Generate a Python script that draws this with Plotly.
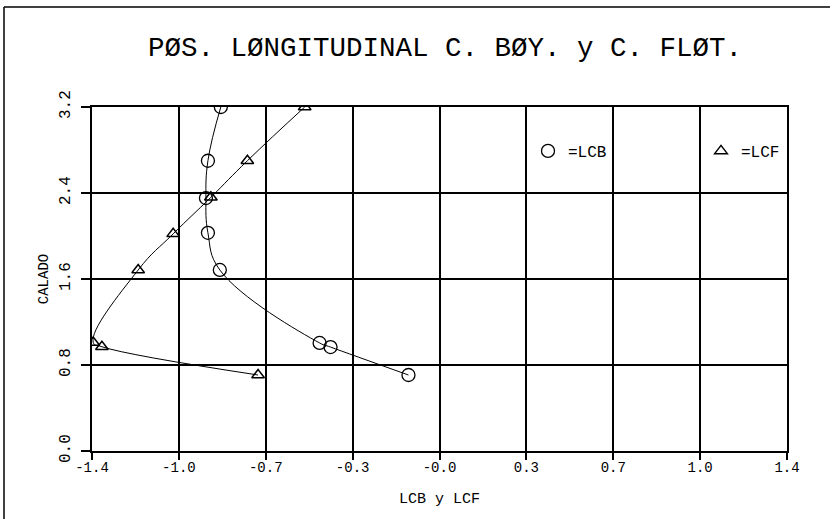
import plotly.graph_objects as go

# Data
calado_lcb = [0.707, 0.967, 1.005, 1.684, 2.03, 2.353, 2.70, 3.2]
lcb = [-0.125, -0.439, -0.483, -0.885, -0.933, -0.941, -0.933, -0.881]

calado_lcf = [0.707, 0.97, 1.01, 1.684, 2.02, 2.36, 2.70, 3.2]
lcf = [-0.731, -1.36, -1.395, -1.214, -1.073, -0.921, -0.774, -0.543]

x_ticks = [-1.4, -1.05, -0.7, -0.35, 0.0, 0.35, 0.7, 1.05, 1.4]
x_tick_labels = ["-1.4", "-1.0", "-0.7", "-0.3", "-0.0", "0.3", "0.7", "1.0", "1.4"]
y_ticks = [0.0, 0.8, 1.6, 2.4, 3.2]
y_tick_labels = ["0.0", "0.8", "1.6", "2.4", "3.2"]

FONT = "Liberation Mono"

fig = go.Figure()
fig.add_trace(go.Scatter(x=lcb, y=calado_lcb, mode="lines+markers",
                         line=dict(color="black", width=1, shape="spline", smoothing=1.2),
                         marker=dict(symbol="circle-open", size=13, color="black", line=dict(width=1.3)),
                         showlegend=False))
fig.add_trace(go.Scatter(x=lcf, y=calado_lcf, mode="lines+markers",
                         line=dict(color="black", width=1, shape="spline", smoothing=1.3),
                         marker=dict(symbol="triangle-up-open", size=11, color="black", line=dict(width=1.5)),
                         showlegend=False))
# legend-only entries
fig.add_trace(go.Scatter(x=[None], y=[None], mode="markers", name="=LCB", legend="legend",
                         marker=dict(symbol="circle-open", size=13, color="black", line=dict(width=1.3))))
fig.add_trace(go.Scatter(x=[None], y=[None], mode="markers", name="=LCF", legend="legend2",
                         marker=dict(symbol="triangle-up-open", size=11, color="black", line=dict(width=1.5))))

W, H = 837, 519
L, R, T, B = 92, 50, 107, 68
pw, ph = W - L - R, H - T - B

def px2paper_x(px):
    return (px - L) / pw

def px2paper_y(py):
    return (H - B - py) / ph

leg_common = dict(bgcolor="rgba(0,0,0,0)", font=dict(family=FONT, size=16),
                  yanchor="middle", y=px2paper_y(151), xanchor="left",
                  itemwidth=30, tracegroupgap=0)

fig.update_layout(
    width=W, height=H, autosize=False,
    margin=dict(l=L, r=R, t=T, b=B, autoexpand=False),
    paper_bgcolor="white", plot_bgcolor="white",
    font=dict(family=FONT, color="black", size=14),
    title=dict(text="PØS. LØNGITUDINAL C. BØY. y C. FLØT.",
               x=px2paper_x(445), xanchor="center", xref="paper",
               y=1 - 46 / H, yanchor="middle",
               font=dict(family=FONT, size=27.5, color="black")),
    xaxis=dict(range=[-1.4, 1.4], tickvals=x_ticks, ticktext=x_tick_labels,
               showgrid=True, gridcolor="black", gridwidth=1.5,
               showline=True, linecolor="black", linewidth=1.5, mirror=True,
               ticks="outside", ticklen=7, tickcolor="black", tickwidth=1.5,
               zeroline=False, automargin=False, ticklabelstandoff=-5,
               title=dict(text="LCB y LCF", font=dict(family=FONT, size=15), standoff=18),
               tickfont=dict(family=FONT, size=14)),
    yaxis=dict(range=[0, 3.2], tickvals=y_ticks, ticktext=y_tick_labels,
               showgrid=True, gridcolor="black", gridwidth=1.5,
               showline=True, linecolor="black", linewidth=1.5, mirror=True,
               ticks="outside", ticklen=9, tickcolor="black", tickwidth=1.5,
               zeroline=False, tickangle=-90, automargin=False, ticklabelstandoff=5,
               title=dict(text="CALADO", font=dict(family=FONT, size=14), standoff=5),
               tickfont=dict(family=FONT, size=16)),
    legend=dict(x=px2paper_x(528), **leg_common),
    legend2=dict(x=px2paper_x(701), **leg_common),
    showlegend=True,
)

# outer frame (left and top)
fig.add_shape(type="line", xref="paper", yref="paper",
              x0=px2paper_x(4), x1=px2paper_x(4), y0=px2paper_y(7), y1=px2paper_y(519),
              line=dict(color="black", width=1.5))
fig.add_shape(type="line", xref="paper", yref="paper",
              x0=px2paper_x(4), x1=px2paper_x(830), y0=px2paper_y(7), y1=px2paper_y(7),
              line=dict(color="black", width=1.5))

fig.write_html("out.html", config={"displayModeBar": False},
               post_script="document.body.style.margin='0';document.body.style.overflow='hidden';")
